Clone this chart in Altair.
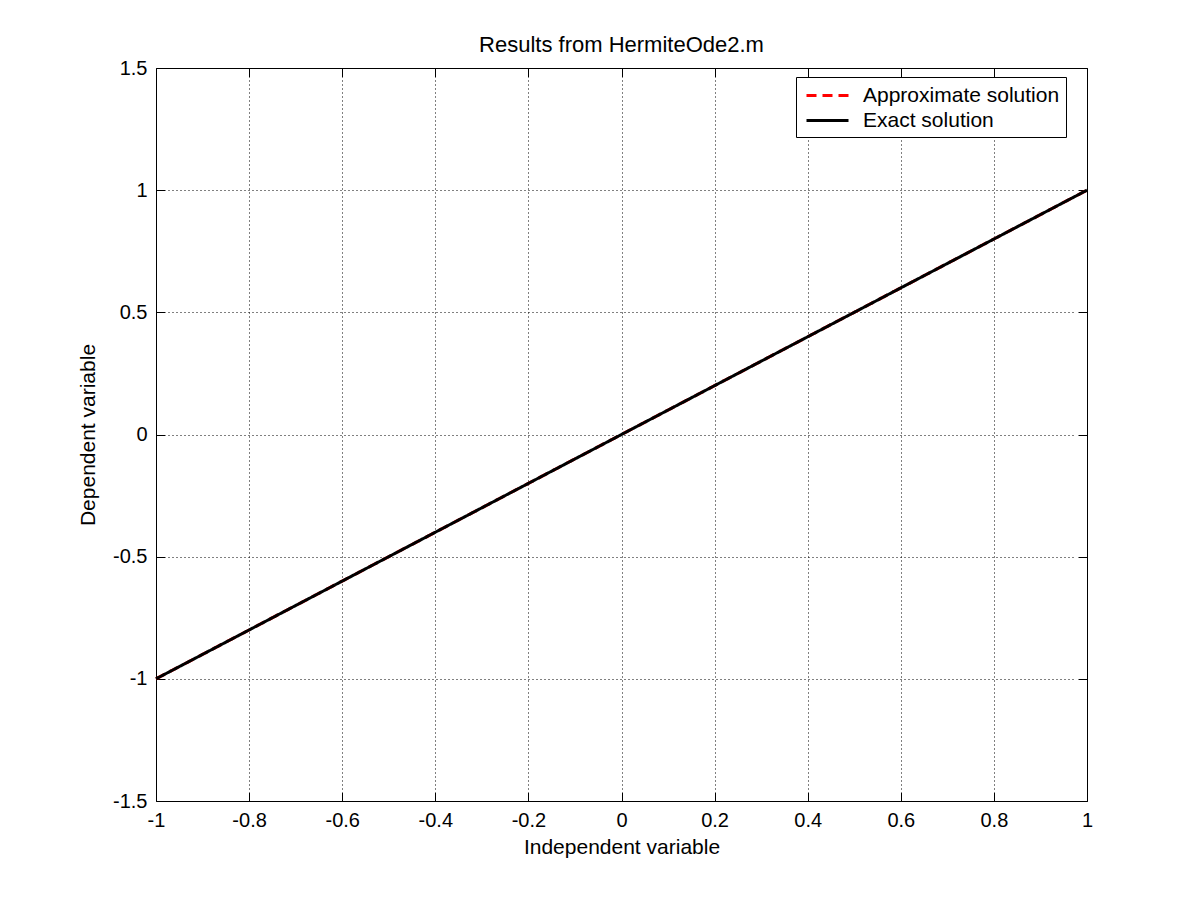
import altair as alt
import pandas as pd

x_vals = [-1.0, -0.8, -0.6, -0.4, -0.2, 0.0, 0.2, 0.4, 0.6, 0.8, 1.0]
approx_vals = [-1.0, -0.8, -0.6, -0.4, -0.2, 0.0, 0.2, 0.4, 0.6, 0.8, 1.0]
exact_vals = [-1.0, -0.8, -0.6, -0.4, -0.2, 0.0, 0.2, 0.4, 0.6, 0.8, 1.0]
series_names = ["Approximate solution", "Exact solution"]
x_ticks = [-1, -0.8, -0.6, -0.4, -0.2, 0, 0.2, 0.4, 0.6, 0.8, 1]
y_ticks = [-1.5, -1, -0.5, 0, 0.5, 1, 1.5]

rows = []
for i, xv in enumerate(x_vals):
    rows.append({"x": xv, "y": approx_vals[i], "series": series_names[0], "order": 0})
for i, xv in enumerate(x_vals):
    rows.append({"x": xv, "y": exact_vals[i], "series": series_names[1], "order": 1})
df = pd.DataFrame(rows)

FONT = "Liberation Sans"
W, H = 931, 733
TICK = 9

# dotted grid with solid inward tick segments at both ends (MATLAB style)
def grid_pattern(length):
    inner = length - 2 * TICK
    k = (inner - 3) // 4
    rem = inner - 4 * k
    return [TICK] + [3, 1] * k + [rem, TICK, 2000]

xscale = alt.Scale(domain=[-1, 1], nice=False, zero=False)
yscale = alt.Scale(domain=[-1.5, 1.5], nice=False, zero=False)

common_axis = dict(
    grid=True, gridColor="#000000", gridOpacity=1, gridWidth=1,
    tickSize=0, labelFlush=False, domain=False,
    labelFont=FONT, titleFont=FONT, labelFontSize=20, titleFontSize=21,
    labelColor="#000000", titleColor="#000000", titleFontWeight="normal",
    labelExpr="replace(format(datum.value, '~g'), '\u2212', '-')",
)

chart = alt.Chart(df).mark_line(strokeWidth=3).encode(
    x=alt.X("x:Q", scale=xscale,
            axis=alt.Axis(values=x_ticks, title="Independent variable",
                          gridDash=grid_pattern(H),
                          labelPadding=9, titlePadding=6, **common_axis)),
    y=alt.Y("y:Q", scale=yscale,
            axis=alt.Axis(values=y_ticks, title="Dependent variable",
                          gridDash=grid_pattern(W),
                          labelPadding=9, titlePadding=14, **common_axis)),
    color=alt.Color("series:N",
                    scale=alt.Scale(domain=series_names, range=["#ff0000", "#000000"]),
                    legend=alt.Legend(title=None, orient="none", legendX=640, legendY=9,
                                      strokeColor="#000000", fillColor="#ffffff",
                                      padding=6.5, symbolType="M-2,0H2", symbolSize=441,
                                      symbolStrokeWidth=3, labelFontSize=21,
                                      labelFont=FONT, labelColor="#000000",
                                      labelLimit=400, labelOffset=23.5,
                                      rowPadding=3, cornerRadius=0,
                                      symbolOffset=13)),
    strokeDash=alt.StrokeDash("series:N",
                              scale=alt.Scale(domain=series_names, range=[[10, 6], [1, 0]]),
                              legend=None),
    order=alt.Order("order:Q"),
    detail="series:N",
).properties(
    width=W,
    height=H,
    title=alt.TitleParams("Results from HermiteOde2.m", font=FONT, fontSize=22,
                          fontWeight="normal", color="#000000", offset=1),
    autosize=alt.AutoSizeParams(type="none"),
    padding={"left": 148, "top": 60, "right": 105, "bottom": 91},
    background="#ffffff",
).configure_view(
    stroke="#000000", strokeWidth=1,
)

chart.save("out.html", embed_options={"renderer": "svg", "actions": False})
